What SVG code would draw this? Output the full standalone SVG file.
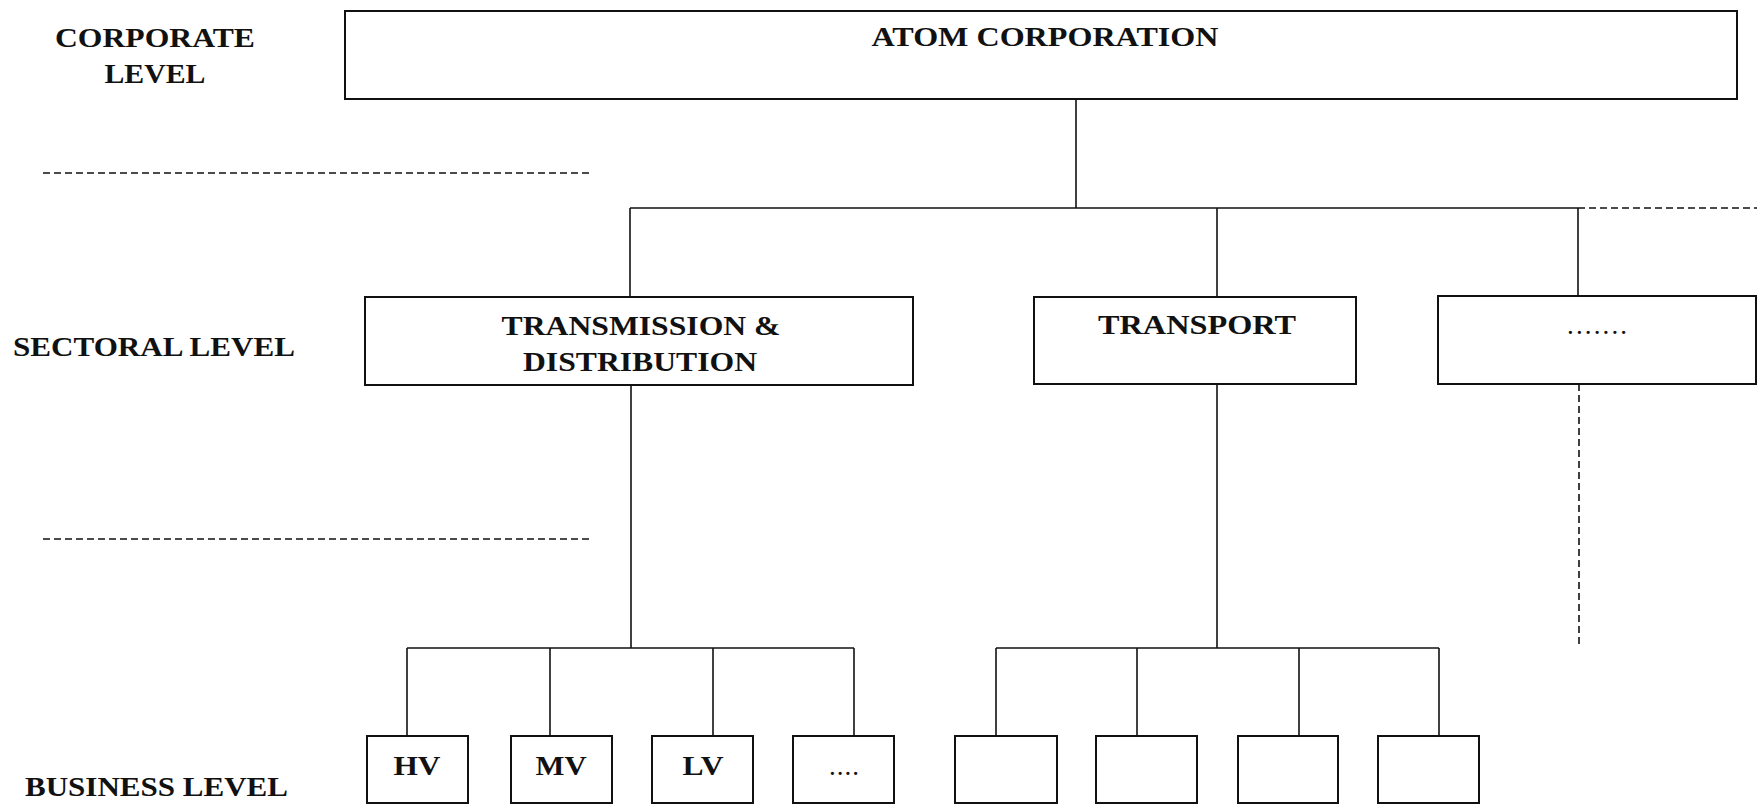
<svg xmlns="http://www.w3.org/2000/svg" width="1757" height="812" viewBox="0 0 1757 812">
<style>
.box{fill:#fff;stroke:#111;stroke-width:2}
.ln{stroke:#111;stroke-width:1.6;fill:none}
.dash{stroke:#111;stroke-width:1.6;fill:none;stroke-dasharray:7 4}
text{font-family:"Liberation Serif","DejaVu Serif",serif;font-size:27px;font-weight:bold;fill:#111}
.c{text-anchor:middle}
.dots{font-weight:normal}
</style>
<rect width="1757" height="812" fill="#fff"/>
<g id="labels">
<text x="155" y="47" class="c" textLength="200" lengthAdjust="spacingAndGlyphs">CORPORATE</text>
<text x="155" y="83" class="c" textLength="101" lengthAdjust="spacingAndGlyphs">LEVEL</text>
<text x="13" y="356" textLength="282" lengthAdjust="spacingAndGlyphs">SECTORAL LEVEL</text>
<text x="25" y="796" textLength="263" lengthAdjust="spacingAndGlyphs">BUSINESS LEVEL</text>
<line class="dash" x1="43" y1="173" x2="590" y2="173"/>
<line class="dash" x1="43" y1="539" x2="590" y2="539"/>
</g>
<g id="connectors">
<line class="ln" x1="1076" y1="99" x2="1076" y2="208"/>
<line class="ln" x1="630" y1="208" x2="1578" y2="208"/>
<line class="dash" x1="1578" y1="208" x2="1757" y2="208"/>
<line class="ln" x1="630" y1="208" x2="630" y2="297"/>
<line class="ln" x1="1217" y1="208" x2="1217" y2="297"/>
<line class="ln" x1="1578" y1="208" x2="1578" y2="296"/>
<line class="ln" x1="631" y1="385" x2="631" y2="648"/>
<line class="ln" x1="1217" y1="384" x2="1217" y2="648"/>
<line class="dash" x1="1579" y1="384" x2="1579" y2="648"/>
<line class="ln" x1="407" y1="648" x2="854" y2="648"/>
<line class="ln" x1="407" y1="648" x2="407" y2="736"/>
<line class="ln" x1="550" y1="648" x2="550" y2="736"/>
<line class="ln" x1="713" y1="648" x2="713" y2="736"/>
<line class="ln" x1="854" y1="648" x2="854" y2="736"/>
<line class="ln" x1="996" y1="648" x2="1439" y2="648"/>
<line class="ln" x1="996" y1="648" x2="996" y2="736"/>
<line class="ln" x1="1137" y1="648" x2="1137" y2="736"/>
<line class="ln" x1="1299" y1="648" x2="1299" y2="736"/>
<line class="ln" x1="1439" y1="648" x2="1439" y2="736"/>
</g>
<g id="atom">
<rect class="box" x="345" y="11" width="1392" height="88"/>
<text x="1045" y="46" class="c" textLength="347" lengthAdjust="spacingAndGlyphs">ATOM CORPORATION</text>
</g>
<g id="td">
<rect class="box" x="365" y="297" width="548" height="88"/>
<text x="641" y="335" class="c" textLength="279" lengthAdjust="spacingAndGlyphs">TRANSMISSION &amp;</text>
<text x="640" y="371" class="c" textLength="234" lengthAdjust="spacingAndGlyphs">DISTRIBUTION</text>
</g>
<g id="transport">
<rect class="box" x="1034" y="297" width="322" height="87"/>
<text x="1197" y="334" class="c" textLength="198" lengthAdjust="spacingAndGlyphs">TRANSPORT</text>
</g>
<g id="other">
<rect class="box" x="1438" y="296" width="318" height="88"/>
<text x="1597" y="334" class="c dots" textLength="60" lengthAdjust="spacing">.......</text>
</g>
<g id="hv"><rect class="box" x="367" y="736" width="101" height="67"/><text x="417" y="775" class="c" textLength="47" lengthAdjust="spacingAndGlyphs">HV</text></g>
<g id="mv"><rect class="box" x="511" y="736" width="101" height="67"/><text x="561" y="775" class="c" textLength="51" lengthAdjust="spacingAndGlyphs">MV</text></g>
<g id="lv"><rect class="box" x="652" y="736" width="101" height="67"/><text x="703" y="775" class="c" textLength="41" lengthAdjust="spacingAndGlyphs">LV</text></g>
<g id="more"><rect class="box" x="793" y="736" width="101" height="67"/><text x="844" y="775" class="c dots" textLength="30" lengthAdjust="spacing">....</text></g>
<g id="b1"><rect class="box" x="955" y="736" width="102" height="67"/></g>
<g id="b2"><rect class="box" x="1096" y="736" width="101" height="67"/></g>
<g id="b3"><rect class="box" x="1238" y="736" width="100" height="67"/></g>
<g id="b4"><rect class="box" x="1378" y="736" width="101" height="67"/></g>
</svg>
